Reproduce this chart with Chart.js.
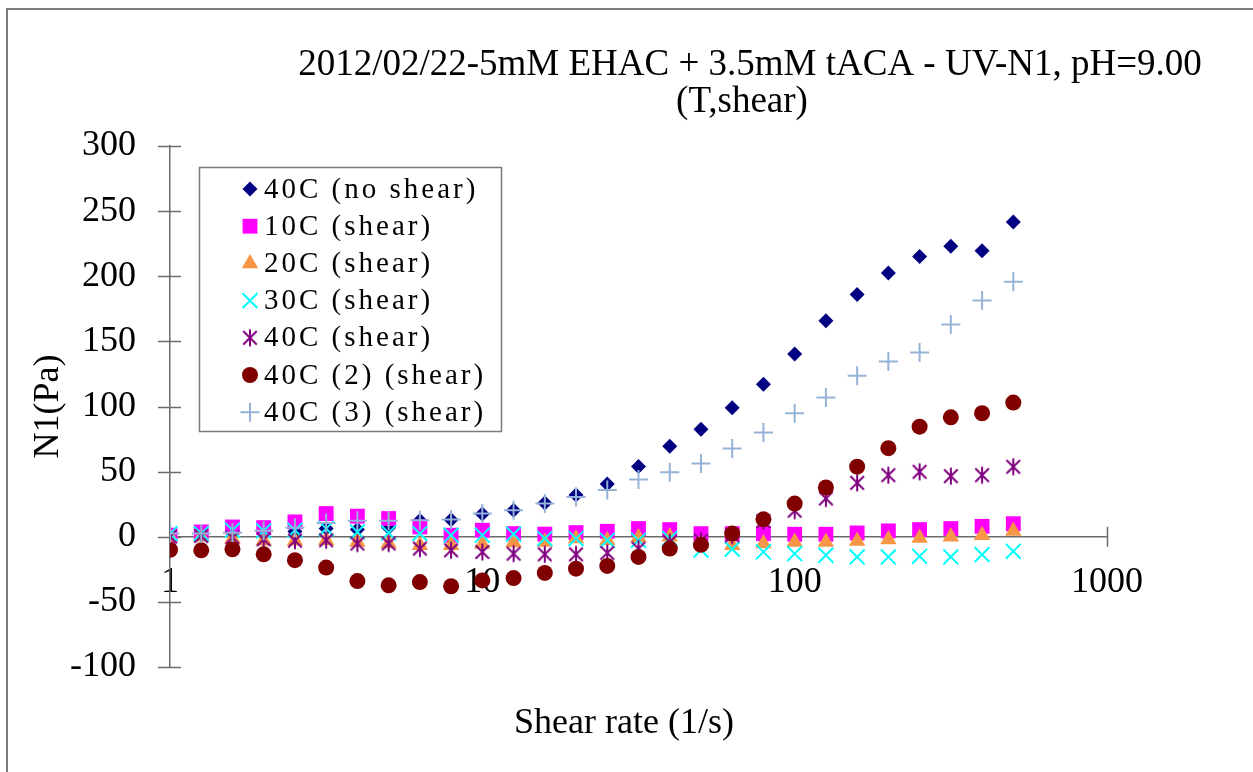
<!DOCTYPE html>
<html>
<head>
<meta charset="utf-8">
<title>N1 vs shear rate</title>
<script src="https://cdn.jsdelivr.net/npm/chart.js@4.4.1/dist/chart.umd.min.js"></script>
<style>
  html, body { margin: 0; padding: 0; background: #fff; }
  canvas { display: block; }
</style>
</head>
<body>
<canvas id="chart" width="1253" height="772"></canvas>
<script>
// Shear rate steps, 10 per decade (1/s)
const shearRate = [1, 1.259, 1.585, 1.995, 2.512, 3.162, 3.981, 5.012, 6.31, 7.943,
  10, 12.59, 15.85, 19.95, 25.12, 31.62, 39.81, 50.12, 63.1, 79.43,
  100, 125.9, 158.5, 199.5, 251.2, 316.2, 398.1, 501.2];

// First normal stress difference N1 (Pa) per run
const n1NoShear40 = [2, 2, 3, 4, 4, 6.3, 5.5, 7, 12.5, 13,
  17.5, 20.4, 26, 32, 40.5, 54, 69.5, 82.5, 99, 117,
  140.4, 165.8, 186, 202.5, 215.2, 223, 219.6, 241.7];
const n1Shear10 = [1.2, 3.7, 7.5, 7, 11.4, 17.8, 15.8, 14, 7.5, 1.2,
  5, 2.4, 2, 3.2, 4.2, 6.3, 5.5, 2.4, 2.4, 2.4,
  1.9, 1.9, 2.9, 4.5, 5.5, 6.3, 8, 10];
const n1Shear20 = [0, 0, -1.5, -3, -3, -2.7, -4, -5.2, -6.5, -6.5,
  -5.5, -4.5, -4, -1.4, -2.7, -0.6, 0, -5, -6.5, -5.2,
  -4, -4, -3.2, -2.2, -0.9, 0, 1.2, 4.5];
const n1Shear30 = [2.4, 2.4, 5, 4.5, 5, 6.3, 3.7, 2.9, 2.4, 1.2,
  1.2, 2, -1.4, -1.4, -2.7, -2.7, -1.4, -10.2, -9.5, -11.7,
  -13, -14.2, -15.5, -15.5, -15, -15.5, -13.7, -11.2];
const n1Shear40 = [0, 0.5, -0.5, -2, -3, -2.7, -5.2, -5.2, -9.1, -10.4,
  -11.7, -13, -13.5, -13.5, -12.4, -9.1, -4, -3, 1, 12,
  20, 29.4, 41.4, 47.3, 49.9, 46.5, 47.3, 53.7];
const n1Shear40Run2 = [-10, -10.4, -9.6, -13.5, -18, -23.7, -34, -37.3, -34.8, -38,
  -33.5, -31.7, -27.8, -24.5, -22.4, -15.5, -9.1, -6.2, 2.4, 13.4,
  25.5, 37.8, 53.8, 68, 84.5, 91.7, 94.8, 103];
const n1Shear40Run3 = [2.4, 2.4, 3, 4.6, 7, 10.6, 12.2, 12.2, 12.7, 13.2,
  17.8, 20.4, 25.5, 30.6, 35.8, 44, 49.6, 56.3, 67.8, 80,
  94.8, 107, 123.7, 134.5, 141.4, 163, 181.4, 195.8];

const seriesLabels = ['40C (no shear)', '10C (shear)', '20C (shear)', '30C (shear)',
  '40C (shear)', '40C (2) (shear)', '40C (3) (shear)'];
const xTickValues = [1, 10, 100, 1000];
const xTickLabels = ['1', '10', '100', '1000'];

const titleLines = ['2012/02/22-5mM EHAC + 3.5mM tACA - UV-N1, pH=9.00', '(T,shear)'];
const xTitle = 'Shear rate (1/s)';
const yTitle = 'N1(Pa)';

const SERIF = "'Liberation Serif', 'Times New Roman', serif";
const AXIS_COLOR = '#6b6b6b';

// six-armed asterisk marker: an X with a vertical bar through it
function makeAsterisk(color, size) {
  const c = document.createElement('canvas');
  c.width = size; c.height = size;
  const g = c.getContext('2d');
  const m = size / 2, r = size / 2 - 1.5, d = r * 0.8;
  g.strokeStyle = color;
  g.lineWidth = 2;
  g.beginPath();
  g.moveTo(m, m - r); g.lineTo(m, m + r);
  g.moveTo(m - d, m - d); g.lineTo(m + d, m + d);
  g.moveTo(m - d, m + d); g.lineTo(m + d, m - d);
  g.stroke();
  return c;
}

const seriesStyle = [
  { values: n1NoShear40, color: '#000080', pointStyle: 'rectRot', radius: 7.5, border: 0 },
  { values: n1Shear10, color: '#FF00FF', pointStyle: 'rect', radius: 10.5, border: 0 },
  { values: n1Shear20, color: '#F79646', pointStyle: 'triangle', radius: 9.5, border: 0 },
  { values: n1Shear30, color: '#00FFFF', pointStyle: 'crossRot', radius: 10.5, border: 2 },
  { values: n1Shear40, color: '#800080', pointStyle: makeAsterisk('#800080', 20), radius: 10, border: 2 },
  { values: n1Shear40Run2, color: '#800000', pointStyle: 'circle', radius: 8, border: 0 },
  { values: n1Shear40Run3, color: '#95B3D7', pointStyle: 'cross', radius: 9.5, border: 2 },
];

const datasets = seriesStyle.map((s, i) => ({
  label: seriesLabels[i],
  data: shearRate.map((x, k) => ({ x, y: s.values[k] })),
  showLine: false,
  pointStyle: s.pointStyle,
  pointRadius: s.radius,
  pointHoverRadius: s.radius,
  pointBackgroundColor: s.color,
  pointBorderColor: s.color,
  pointBorderWidth: s.border,
  // later series sit on top of earlier ones
  order: seriesStyle.length - i,
}));

// crossing tick marks on both axes
const crossTicks = {
  id: 'crossTicks',
  beforeDatasetsDraw(chart) {
    const { ctx, scales: { x, y } } = chart;
    const y0 = y.getPixelForValue(0);
    ctx.save();
    ctx.strokeStyle = AXIS_COLOR;
    ctx.lineWidth = 1.5;
    ctx.beginPath();
    y.ticks.forEach(t => {
      const py = Math.round(y.getPixelForValue(t.value)) + 0.5;
      ctx.moveTo(x.left - 12, py);
      ctx.lineTo(x.left + 11, py);
    });
    x.ticks.forEach(t => {
      const px = Math.round(x.getPixelForValue(t.value)) + 0.5;
      ctx.moveTo(px, y0 - 10);
      ctx.lineTo(px, y0 + 10);
    });
    ctx.stroke();
    ctx.restore();
  }
};

// outer frame, chart title, x axis title and the boxed legend
const decorations = {
  id: 'decorations',
  beforeDraw(chart) {
    const { ctx, width, height } = chart;
    ctx.save();
    ctx.fillStyle = '#fff';
    ctx.fillRect(0, 0, width, height);
    ctx.strokeStyle = '#7a7a7a';
    ctx.lineWidth = 2;
    ctx.strokeRect(7, 9, width + 10, height + 10);
    ctx.restore();
  },
  afterDraw(chart) {
    const { ctx } = chart;
    ctx.save();
    ctx.fillStyle = '#000';
    ctx.font = '37px ' + SERIF;
    ctx.textAlign = 'center';
    ctx.textBaseline = 'alphabetic';
    ctx.fillText(titleLines[0], 750, 75);
    ctx.fillText(titleLines[1], 742, 112);
    ctx.font = '36px ' + SERIF;
    ctx.fillText(xTitle, 624, 733);

    // legend
    const box = { left: 199, top: 167, right: 501, bottom: 431 };
    ctx.fillStyle = '#fff';
    ctx.fillRect(box.left, box.top, box.right - box.left, box.bottom - box.top);
    ctx.strokeStyle = '#7a7a7a';
    ctx.lineWidth = 1.5;
    ctx.strokeRect(box.left + 0.5, box.top + 0.5, box.right - box.left, box.bottom - box.top);

    ctx.font = '29px ' + SERIF;
    if ('letterSpacing' in ctx) ctx.letterSpacing = '3px';
    ctx.textAlign = 'left';
    ctx.textBaseline = 'middle';
    chart.data.datasets.forEach((ds, i) => {
      const cy = 189 + i * 37.2;
      ctx.fillStyle = ds.pointBackgroundColor;
      ctx.strokeStyle = ds.pointBorderColor;
      ctx.lineWidth = ds.pointBorderWidth;
      Chart.helpers.drawPoint(ctx, {
        pointStyle: ds.pointStyle,
        radius: ds.pointRadius,
        rotation: 0,
        borderWidth: ds.pointBorderWidth,
      }, 250, cy);
      ctx.fillStyle = '#000';
      ctx.fillText(ds.label, 264, cy + 1);
    });
    ctx.restore();
  }
};

new Chart(document.getElementById('chart'), {
  type: 'scatter',
  data: { datasets },
  options: {
    responsive: false,
    devicePixelRatio: 1,
    animation: false,
    layout: { padding: { top: 146, right: 146, bottom: 105, left: 0 } },
    plugins: {
      legend: { display: false },
      tooltip: { enabled: false },
    },
    scales: {
      x: {
        type: 'logarithmic',
        min: 1,
        max: 1000,
        position: { y: 0 },
        afterBuildTicks(scale) {
          scale.ticks = xTickValues.map(v => ({ value: v }));
        },
        ticks: {
          autoSkip: false,
          maxRotation: 0,
          padding: 24,
          color: '#000',
          font: { family: SERIF, size: 36 },
          callback: (v, i) => xTickLabels[i],
        },
        grid: { drawOnChartArea: false, drawTicks: false },
        border: { color: AXIS_COLOR, width: 1.5 },
      },
      y: {
        min: -100,
        max: 300,
        afterFit(scale) { scale.width = 170; },
        ticks: {
          stepSize: 50,
          padding: 34,
          color: '#000',
          font: { family: SERIF, size: 36 },
        },
        grid: { drawOnChartArea: false, drawTicks: false },
        border: { color: AXIS_COLOR, width: 1.5 },
        title: {
          display: true,
          text: yTitle,
          color: '#000',
          font: { family: SERIF, size: 36 },
          padding: { top: 27, bottom: 0 },
        },
      },
    },
  },
  plugins: [crossTicks, decorations],
});
</script>
</body>
</html>
